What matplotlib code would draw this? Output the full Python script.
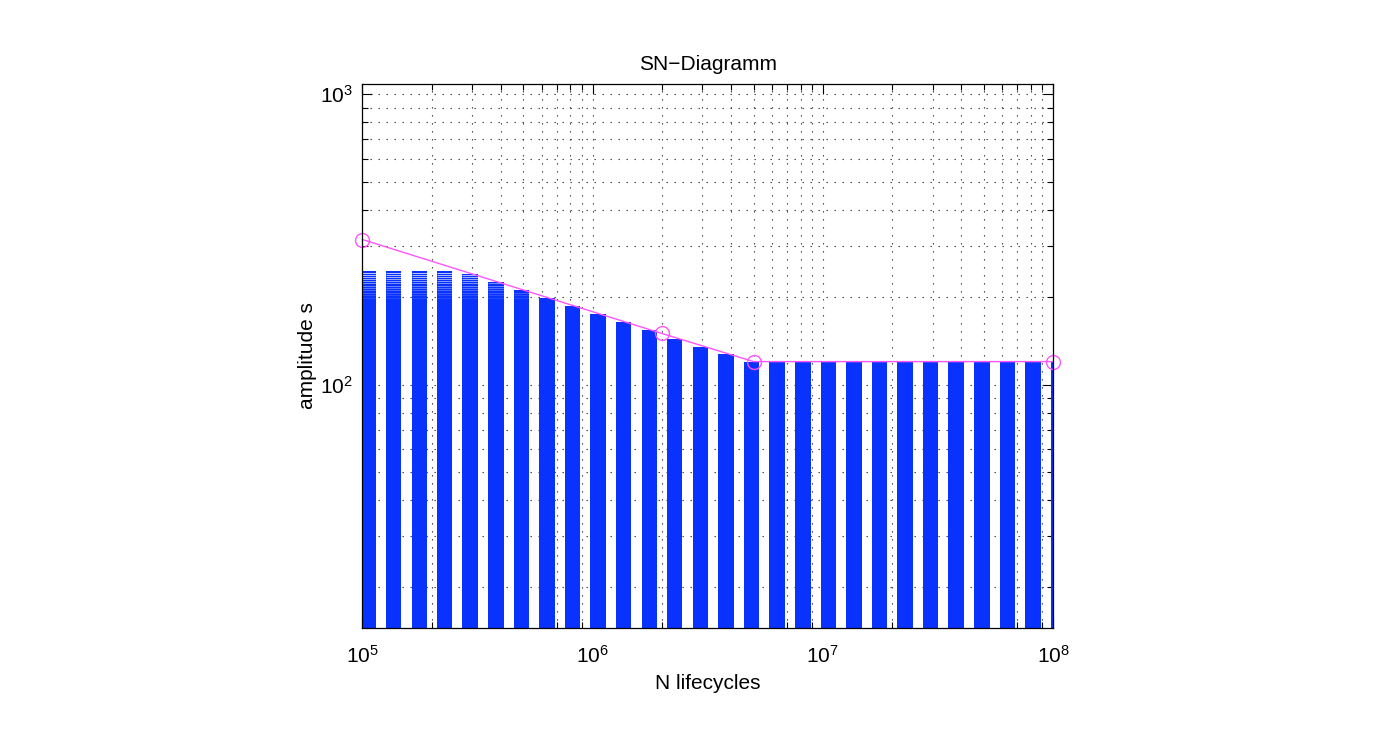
import matplotlib
matplotlib.use("Agg")
import matplotlib.pyplot as plt
from matplotlib.ticker import LogLocator, NullFormatter

# SN curve (fatigue line) with its knee points
n_points = [1e5, 2e6, 5e6, 1e8]
s_points = [316, 150, 120, 120]

# blue sample columns: left edge in N and the height they reach
stripe_n = [1.00e5, 1.29e5, 1.67e5, 2.15e5, 2.78e5, 3.59e5, 4.64e5, 5.99e5, 7.74e5,
            1.00e6, 1.29e6, 1.67e6, 2.15e6, 2.78e6, 3.59e6, 4.64e6, 5.99e6, 7.74e6,
            1.00e7, 1.29e7, 1.67e7, 2.15e7, 2.78e7, 3.59e7, 4.64e7, 5.99e7, 7.74e7,
            1.00e8]
stripe_top = [246, 246, 246, 246, 241, 226, 212, 199, 186,
              175, 164, 154, 144, 135, 127, 120, 120, 120,
              120, 120, 120, 120, 120, 120, 120, 120, 120,
              120]

# sparse sample levels near the cap (visible as thin gaps at the top)
gap_levels = [243, 239, 235, 231, 227, 223, 219, 215, 211, 207, 203, 199]

x_ticks = [1e5, 1e6, 1e7, 1e8]
x_ticklabels = ["$10^{5}$", "$10^{6}$", "$10^{7}$", "$10^{8}$"]
y_ticks = [1e2, 1e3]
y_ticklabels = ["$10^{2}$", "$10^{3}$"]

plt.rcParams["font.family"] = ["Liberation Sans", "DejaVu Sans"]
plt.rcParams["mathtext.fontset"] = "custom"
plt.rcParams["mathtext.rm"] = "Liberation Sans"
plt.rcParams["mathtext.it"] = "Liberation Sans:italic"
plt.rcParams["font.size"] = 15

fig = plt.figure(figsize=(13.83, 7.30), dpi=100)
ax = fig.add_axes([0.2621, 0.1397, 0.4993, 0.7452])
ax.set_xscale("log")
ax.set_yscale("log")
ax.set_xlim(1e5, 1e8)
ax.set_ylim(14.5, 1085)

blue = "#0a32ff"
start_factor = 0.978
end_factor = 1.142
lefts = [n * start_factor for n in stripe_n]
widths = [n * (end_factor - start_factor) for n in stripe_n]
ax.bar(lefts, [t - 1 for t in stripe_top], bottom=1, width=widths,
       align="edge", color=blue, edgecolor="none", zorder=2)

for x0, w, top in zip(lefts, widths, stripe_top):
    for k, lvl in enumerate(gap_levels):
        if lvl < top - 1:
            ax.hlines(lvl, x0, x0 + w, color="white", lw=0.7,
                      alpha=max(0.12, 0.75 - 0.06 * k), zorder=3)

ax.plot(n_points, s_points, "-", color="#ff55ff", lw=1.0, marker="o",
        markersize=10, markerfacecolor="none", markeredgewidth=1.0,
        zorder=4, clip_on=False)

ax.set_xticks(x_ticks)
ax.set_xticklabels(x_ticklabels)
ax.set_yticks(y_ticks)
ax.set_yticklabels(y_ticklabels)
ax.xaxis.set_minor_locator(LogLocator(base=10, subs=range(2, 10)))
ax.yaxis.set_minor_locator(LogLocator(base=10, subs=range(2, 10)))
ax.xaxis.set_minor_formatter(NullFormatter())
ax.yaxis.set_minor_formatter(NullFormatter())

ax.tick_params(which="both", direction="in", top=True, right=True, width=0.8)
ax.tick_params(which="major", length=7, labelsize=15)
ax.tick_params(axis="x", which="major", pad=12)
ax.tick_params(axis="y", which="major", pad=7)
ax.tick_params(which="minor", length=4)

ax.set_axisbelow(True)
ax.grid(True, which="both", linestyle=(0, (1.2, 6)), linewidth=0.8,
        color="0.2")

for sp in ax.spines.values():
    sp.set_linewidth(0.9)
    sp.set_zorder(5)

ax.set_title("SN\u2212Diagramm", fontsize=15, pad=10)
ax.set_xlabel("N lifecycles", fontsize=15, labelpad=5)
ax.set_ylabel("amplitude s", fontsize=15, labelpad=2)

fig.savefig("out.png", dpi=100)
